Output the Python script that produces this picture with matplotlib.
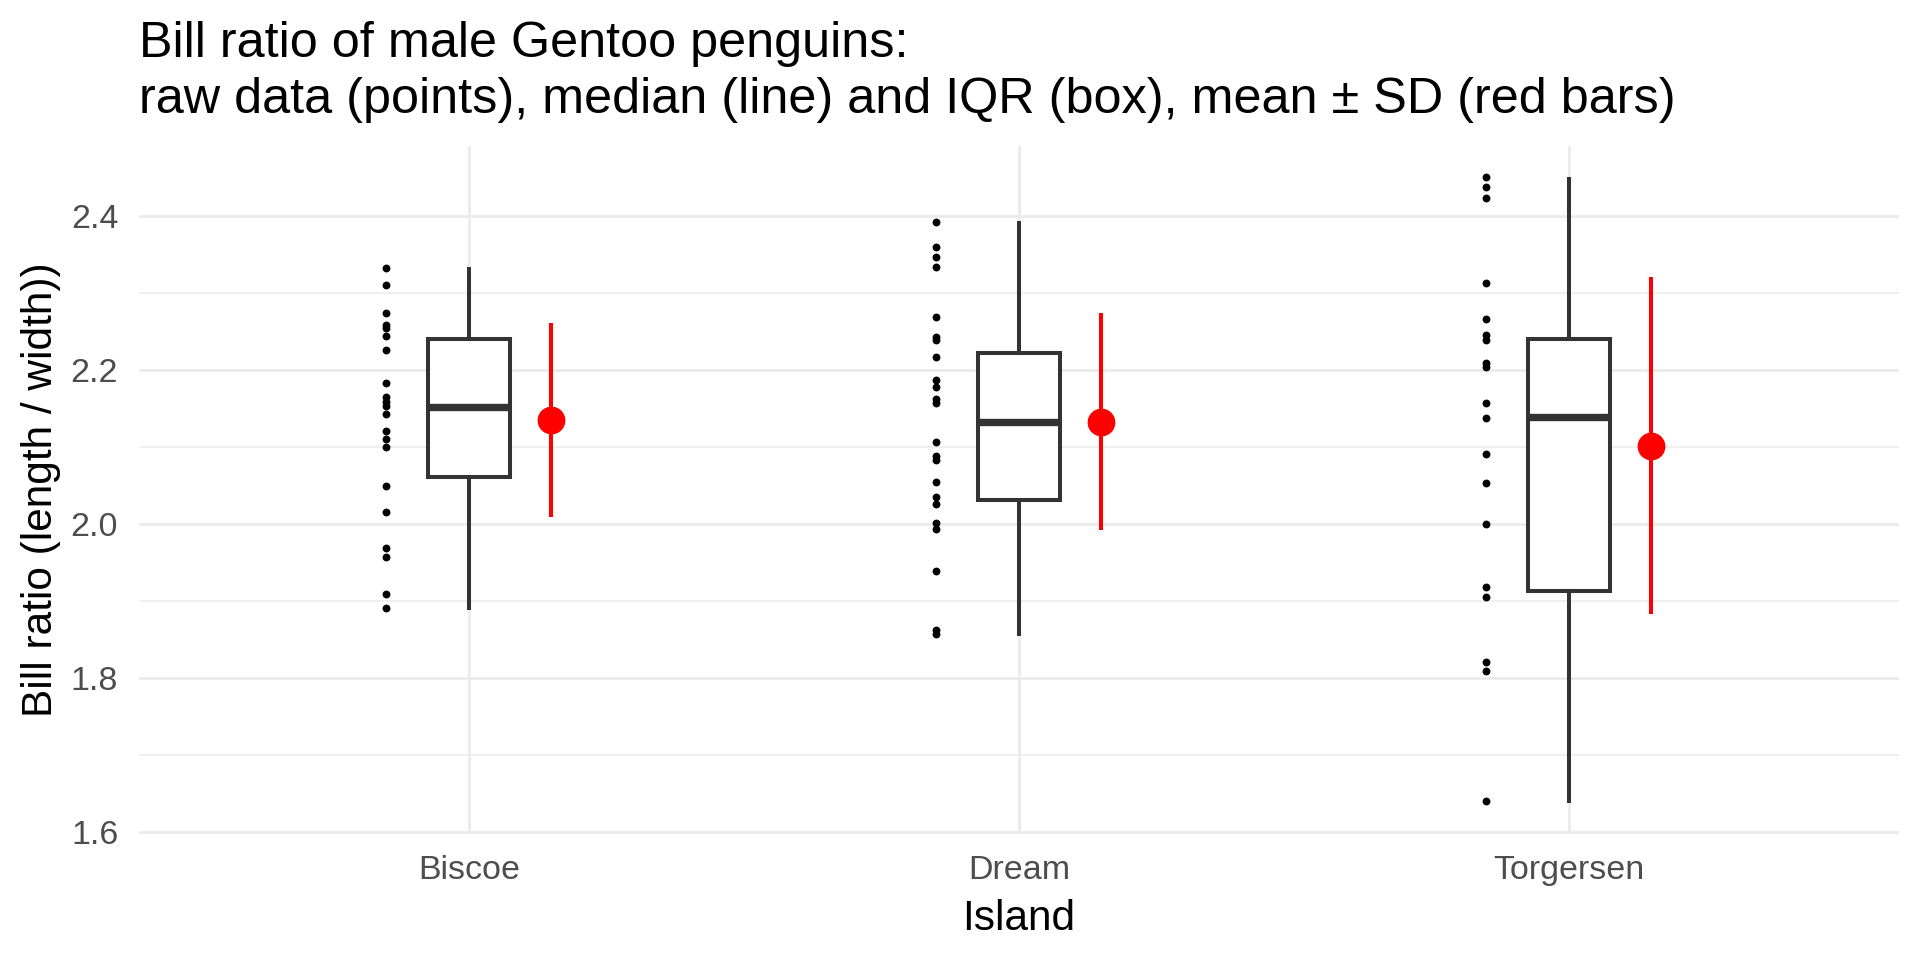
import numpy as np
import matplotlib
matplotlib.use("Agg")
import matplotlib.pyplot as plt

plt.rcParams['font.family'] = ['Liberation Sans', 'DejaVu Sans']

islands = ['Biscoe', 'Dream', 'Torgersen']

# raw bill ratios
biscoe = [2.333, 2.311, 2.274, 2.259, 2.255, 2.245, 2.226, 2.183, 2.165, 2.159,
          2.154, 2.143, 2.121, 2.111, 2.101, 2.050, 2.016, 1.969, 1.958, 1.910, 1.891]
dream = [2.393, 2.360, 2.348, 2.334, 2.270, 2.244, 2.239, 2.218, 2.188, 2.178,
         2.163, 2.158, 2.107, 2.089, 2.084, 2.055, 2.036, 2.026, 2.002, 1.994,
         1.940, 1.863, 1.857]
torgersen = [2.451, 2.438, 2.424, 2.314, 2.267, 2.246, 2.239, 2.210, 2.205, 2.158,
             2.138, 2.091, 2.054, 2.000, 1.918, 1.905, 1.821, 1.810, 1.640]

# box stats (median / IQR / whiskers)
q1 = [2.062, 2.032, 1.913]
med = [2.153, 2.133, 2.139]
q3 = [2.241, 2.222, 2.241]
whislo = [1.891, 1.858, 1.640]
whishi = [2.332, 2.392, 2.449]

# mean +- SD
means = [2.136, 2.133, 2.102]
sds = [0.126, 0.141, 0.219]

raw = [biscoe, dream, torgersen]
pos = np.arange(1, len(islands) + 1)

fig = plt.figure(figsize=(19.2, 9.6), dpi=100)
ax = fig.add_axes([139/1920, 1 - 833.7/960, (1898.7-139)/1920, (833.7-146)/960])

# grid
ax.set_yticks([1.6, 1.8, 2.0, 2.2, 2.4])
ax.set_yticks([1.7, 1.9, 2.1, 2.3], minor=True)
ax.grid(True, which='major', color='#EBEBEB', linewidth=2.0)
ax.grid(True, which='minor', axis='y', color='#EBEBEB', linewidth=1.1)
ax.set_axisbelow(True)
for s in ax.spines.values():
    s.set_visible(False)

# raw points
for i, vals in enumerate(raw):
    ax.scatter(np.full(len(vals), pos[i] - 0.15), vals, s=32, color='black',
               linewidths=0, zorder=3)

# boxes
stats = []
for i in range(len(islands)):
    stats.append(dict(med=med[i], q1=q1[i], q3=q3[i], whislo=whislo[i],
                      whishi=whishi[i], fliers=[]))
ax.bxp(stats, positions=pos, widths=0.15, showcaps=False, showfliers=False,
       patch_artist=True,
       boxprops=dict(facecolor='white', edgecolor='#333333', linewidth=2.9),
       whiskerprops=dict(color='#333333', linewidth=2.9),
       medianprops=dict(color='#333333', linewidth=5.3, solid_capstyle='butt'))

# mean +- SD in red
ax.errorbar(pos + 0.15, means, yerr=sds, fmt='o', color='red', ecolor='red',
            elinewidth=2.9, markersize=19, capsize=0, zorder=4)

ax.set_xlim(0.4, 3.6)
ax.set_ylim(1.598, 2.4916)
ax.set_xticks(pos)
ax.set_xticklabels(islands)
ax.tick_params(axis='both', which='both', length=0, labelsize=24.5,
               labelcolor='#4D4D4D')
ax.tick_params(axis='x', pad=15.5)
ax.tick_params(axis='y', pad=15)
ax.yaxis.set_major_formatter(matplotlib.ticker.FormatStrFormatter('%.1f'))

ax.set_xlabel('Island', fontsize=30.5)
ax.xaxis.set_label_coords(0.5, -0.14)
ax.xaxis.label.set_va('baseline')
ax.set_ylabel('Bill ratio (length / width))', fontsize=30.5)
ax.yaxis.set_label_coords(-0.0557, 0.5)
ax.yaxis.label.set_va('center')

fig.text(139/1920, 1 - 112.7/960,
         'Bill ratio of male Gentoo penguins:\n'
         'raw data (points), median (line) and IQR (box), mean \u00b1 SD (red bars)',
         fontsize=36.3, ha='left', va='baseline', linespacing=1.28)

fig.savefig('out.png', dpi=100)
